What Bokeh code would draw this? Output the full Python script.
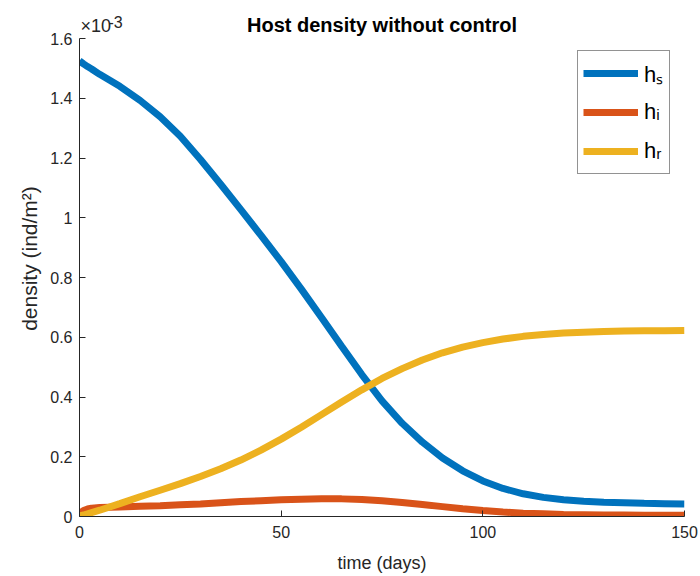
from bokeh.plotting import figure
from bokeh.models import Range1d, Label, Legend, LegendItem, FixedTicker
from bokeh.embed import file_html
from bokeh.resources import INLINE

# time (days)
t = [0, 1, 2, 3, 5, 10, 15, 20, 25, 30, 35, 40, 45, 50, 55, 60, 65, 70, 75, 80,
     85, 90, 95, 100, 105, 110, 115, 120, 125, 130, 135, 140, 145, 150]
# densities in units of 1e-3 ind/m^2
h_s = [1.525, 1.515, 1.506, 1.498, 1.480, 1.440, 1.393, 1.338, 1.273, 1.195,
       1.112, 1.027, 0.941, 0.853, 0.761, 0.666, 0.570, 0.475, 0.387, 0.312,
       0.249, 0.196, 0.153, 0.119, 0.094, 0.076, 0.064, 0.056, 0.051, 0.048,
       0.046, 0.044, 0.043, 0.042]
h_i = [0.010, 0.020, 0.025, 0.028, 0.030, 0.032, 0.034, 0.036, 0.039, 0.042,
       0.046, 0.050, 0.053, 0.056, 0.058, 0.059, 0.059, 0.057, 0.053, 0.047,
       0.040, 0.033, 0.026, 0.020, 0.015, 0.011, 0.009, 0.007, 0.006, 0.005,
       0.005, 0.004, 0.004, 0.004]
h_r = [0.002, 0.005, 0.009, 0.013, 0.021, 0.043, 0.066, 0.088, 0.110, 0.134,
       0.160, 0.189, 0.222, 0.259, 0.299, 0.341, 0.383, 0.424, 0.462, 0.495,
       0.524, 0.548, 0.567, 0.582, 0.594, 0.603, 0.609, 0.614, 0.617, 0.619,
       0.621, 0.622, 0.622, 0.623]

x_ticks = [0, 50, 100, 150]
y_ticks = [0, 0.2, 0.4, 0.6, 0.8, 1.0, 1.2, 1.4, 1.6]
y_tick_labels = {0: "0", 0.2: "0.2", 0.4: "0.4", 0.6: "0.6", 0.8: "0.8",
                 1.0: "1", 1.2: "1.2", 1.4: "1.4", 1.6: "1.6"}
y_max = 1.6

names = ["hₛ", "hᵢ", "hᵣ"]
colors = ["#0072BD", "#D95319", "#EDB120"]
title_text = "Host density without control"

FONT = "Liberation Sans"
INK = "#262626"

# frame: left 79, right 684, bottom 516; the 1.6 tick sits 38 px below the top
FRAME_H = 516
y_top = y_max * FRAME_H / (FRAME_H - 38)

p = figure(width=700, height=576, output_backend="svg", toolbar_location=None,
           x_range=Range1d(0, 150), y_range=Range1d(0, y_top),
           min_border_left=79, min_border_right=16, min_border_top=0,
           min_border_bottom=60)
p.outline_line_color = None
p.xgrid.visible = False
p.ygrid.visible = False
p.background_fill_color = "white"
p.border_fill_color = "white"

renderers = []
for series, c in zip([h_s, h_i, h_r], colors):
    r = p.line(t, series, line_color=c, line_width=7)
    renderers.append(r)

for ax in (p.xaxis[0], p.yaxis[0]):
    ax.axis_line_color = INK
    ax.major_tick_line_color = INK
    ax.minor_tick_line_color = None
    ax.major_tick_in = 6
    ax.major_tick_out = 0
    ax.major_label_text_font = FONT
    ax.major_label_text_font_size = "16px"
    ax.major_label_text_color = INK
    ax.axis_label_text_font = FONT
    ax.axis_label_text_font_style = "normal"
    ax.axis_label_text_color = INK

p.xaxis.axis_label_text_font_size = "18px"
p.yaxis.axis_label_text_font_size = "21px"
p.xaxis.ticker = FixedTicker(ticks=x_ticks)
p.yaxis.ticker = FixedTicker(ticks=y_ticks)
p.yaxis.bounds = (0, y_max)
p.yaxis.major_label_overrides = y_tick_labels
p.xaxis.major_label_standoff = 9
p.yaxis.major_label_standoff = 7
p.xaxis.axis_label = "time (days)"
p.yaxis.axis_label = "density (ind/m²)"
p.xaxis.axis_label_standoff = 12
p.yaxis.axis_label_standoff = 6

# title and y-axis exponent, drawn above the 1.6 tick
p.add_layout(Label(x=75, y=y_max, y_offset=14, text=title_text,
                   text_font=FONT, text_font_size="20px", text_font_style="bold",
                   text_color="black", text_align="center",
                   text_baseline="middle"))
p.add_layout(Label(x=0, y=y_max, x_offset=1, y_offset=3, text="×10",
                   text_font=FONT, text_font_size="18px", text_color=INK,
                   text_baseline="bottom"))
p.add_layout(Label(x=0, y=y_max, x_offset=29, y_offset=11, text="-3",
                   text_font=FONT, text_font_size="16px", text_color=INK,
                   text_baseline="bottom"))

legend = Legend(items=[LegendItem(label=n, renderers=[r]) for n, r in zip(names, renderers)],
                location=(498, 342), margin=0, padding=5, spacing=5,
                glyph_width=55, glyph_height=34, label_height=34,
                label_standoff=6, label_text_font=FONT,
                label_text_font_size="22px", label_text_color="black",
                border_line_color=INK, border_line_width=1,
                background_fill_color="white", background_fill_alpha=1.0)
p.add_layout(legend)

open("out.html", "w").write(file_html(p, INLINE))
